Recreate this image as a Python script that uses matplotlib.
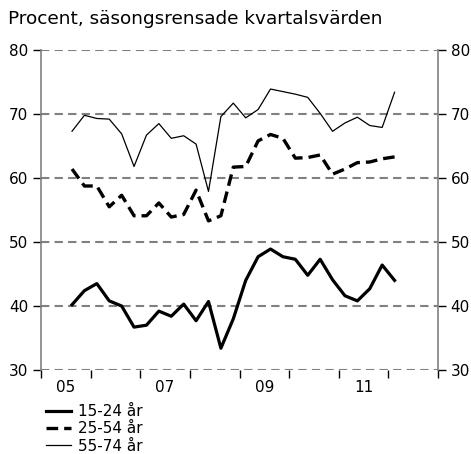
import matplotlib.pyplot as plt
import numpy as np
from matplotlib.lines import Line2D

# kvartal 2005 Q3 - 2012 Q1
start_year = 2005
start_quarter = 3

age_15_24 = [40.2, 42.4, 43.5, 40.8, 40.0, 36.7, 37.0, 39.2, 38.4, 40.3,
             37.7, 40.7, 33.4, 38.0, 44.0, 47.7, 48.9, 47.7, 47.3, 44.8,
             47.3, 44.1, 41.6, 40.8, 42.7, 46.4, 44.0]
age_25_54 = [61.4, 58.75, 58.75, 55.5, 57.3, 54.1, 54.1, 56.1, 53.9, 54.3,
             58.1, 53.3, 54.1, 61.7, 61.8, 65.8, 66.8, 66.2, 63.1, 63.2,
             63.6, 60.6, 61.4, 62.4, 62.5, 63.0, 63.3]
age_55_74 = [67.3, 69.8, 69.3, 69.2, 66.9, 61.8, 66.7, 68.5, 66.2, 66.6,
             65.3, 57.9, 69.6, 71.7, 69.4, 70.7, 73.9, 73.5, 73.1, 72.6,
             70.1, 67.3, 68.6, 69.5, 68.2, 67.9, 73.4]

series_labels = ["15-24 år", "25-54 år", "55-74 år"]
year_ticks = [2005, 2007, 2009, 2011]
year_labels = ["05", "07", "09", "11"]
y_ticks = [30, 40, 50, 60, 70, 80]

n = len(age_15_24)
qidx = np.arange(n) + (start_quarter - 1)
x = start_year + (qidx + 0.5) / 4

W, H = 471, 454
fig = plt.figure(figsize=(W / 100, H / 100), dpi=100)
ax = fig.add_axes([41 / W, 1 - 370 / H, (438 - 41) / W, 320 / H])

grid_col = "#808080"
for yv in y_ticks:
    ax.axhline(yv, color=grid_col, lw=1.5, ls=(0, (4, 2.5)), zorder=1)

ax.plot(x, age_55_74, color="black", lw=0.9, zorder=3)
ax.plot(x, age_25_54, color="black", lw=2.4, ls=(0, (3.5, 1.8)), zorder=3)
ax.plot(x, age_15_24, color="black", lw=2.3, zorder=3)

ax.set_xlim(2005, 2013)
ax.set_ylim(30, 80)

for s in ["top", "bottom"]:
    ax.spines[s].set_visible(False)
for s in ["left", "right"]:
    ax.spines[s].set_color(grid_col)
    ax.spines[s].set_linewidth(1.2)

ax.set_yticks(y_ticks)
ax.tick_params(axis="y", which="both", left=True, right=True,
               labelleft=True, labelright=True, direction="out",
               length=6, width=1, color="black", labelsize=11, pad=3)

ax.set_xticks(np.arange(2005, 2014))
ax.set_xticklabels([])
ax.set_xticks([y + 0.5 for y in year_ticks], minor=True)
ax.set_xticklabels(year_labels, minor=True)
ax.tick_params(axis="x", which="major", direction="out", length=6,
               width=1, color="black")
ax.tick_params(axis="x", which="minor", length=0, labelsize=11, pad=7)

fig.text(8 / W, 1 - 19 / H, "Procent, säsongsrensade kvartalsvärden",
         fontsize=13.3, ha="left", va="center")

handles = [
    Line2D([], [], color="black", lw=2.3),
    Line2D([], [], color="black", lw=2.4, ls=(0, (3.5, 1.8))),
    Line2D([], [], color="black", lw=0.9),
]
fig.legend(handles, series_labels, loc="upper left",
           bbox_to_anchor=(46 / W, 1 - 404 / H), frameon=False,
           fontsize=11, handlelength=1.65, handletextpad=0.45,
           labelspacing=0.15, borderpad=0, borderaxespad=0)

fig.savefig("out.png", dpi=100)
